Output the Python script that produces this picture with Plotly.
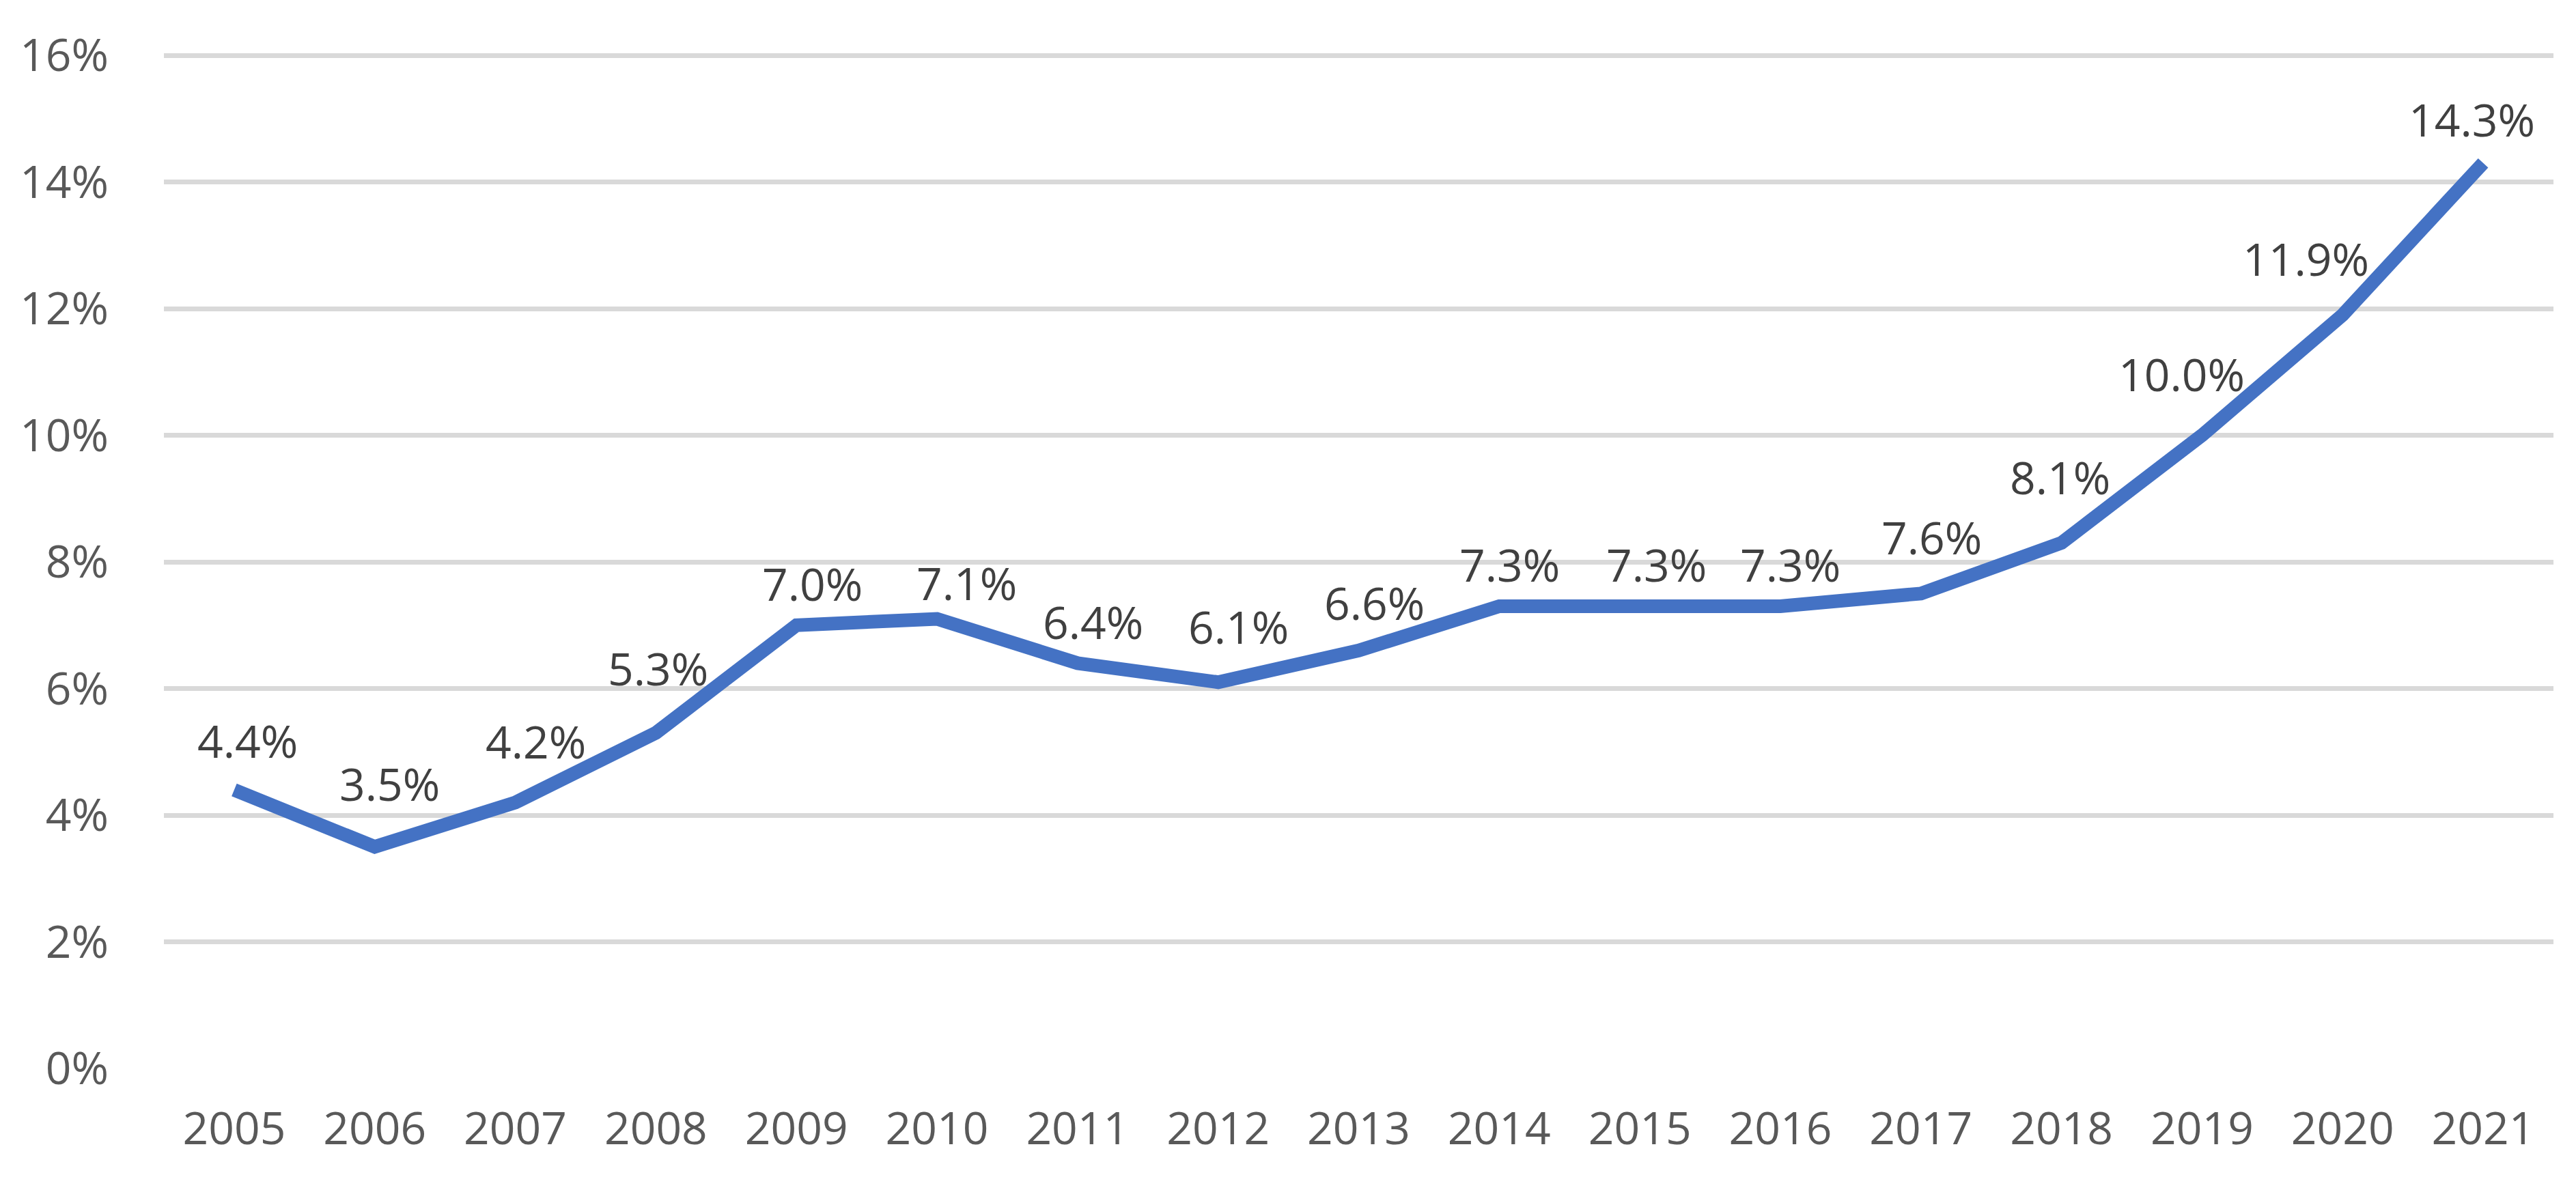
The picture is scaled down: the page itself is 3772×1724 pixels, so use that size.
import plotly.graph_objects as go

years = ["2005", "2006", "2007", "2008", "2009", "2010", "2011", "2012", "2013",
         "2014", "2015", "2016", "2017", "2018", "2019", "2020", "2021"]
# line values (percent) as drawn
line_values = [4.4, 3.5, 4.2, 5.3, 7.0, 7.1, 6.4, 6.1, 6.6,
               7.3, 7.3, 7.3, 7.5, 8.3, 10.0, 11.9, 14.3]
# data label values as printed on the chart
label_values = [4.4, 3.5, 4.2, 5.3, 7.0, 7.1, 6.4, 6.1, 6.6,
                7.3, 7.3, 7.3, 7.6, 8.1, 10.0, 11.9, 14.3]
y_ticks = [0, 2, 4, 6, 8, 10, 12, 14, 16]

# pixel nudges for each data label (dx, dy above the point), style only
label_nudge = [(20, 42), (22, 62), (30, 59), (3, 64), (23, 31), (43, 22), (23, 30),
               (30, 51), (23, 40), (15, 31), (24, 31), (15, 31), (16, 52), (-2, 66),
               (-30, 60), (-54, 52), (-17, 34)]

FONT = "Open Sans"
FS = 66
LINE_COLOR = "#4472C4"
GRID = "#D9D9D9"

fig = go.Figure()
fig.add_trace(go.Scatter(
    x=years, y=line_values, mode="lines",
    line=dict(color=LINE_COLOR, width=20),
    hoverinfo="skip", showlegend=False,
))

for i, (v, lv, (dx, dy)) in enumerate(zip(line_values, label_values, label_nudge)):
    fig.add_annotation(
        x=i, y=v, xref="x", yref="y", text=f"{lv:.1f}%", showarrow=False,
        xanchor="center", yanchor="bottom",
        xshift=dx, yshift=dy - 16,
        font=dict(family=FONT, size=FS, color="#404040"),
    )

fig.update_layout(
    width=3772, height=1724,
    margin=dict(l=232, r=41, t=68, b=167, pad=0),
    paper_bgcolor="white", plot_bgcolor="white",
    font=dict(family=FONT, size=FS, color="#595959"),
)
fig.update_xaxes(
    type="category", range=[-0.5, 16.5],
    showgrid=False, showline=False, zeroline=False,
    ticks="", ticklabelstandoff=44,
    tickfont=dict(family=FONT, size=FS, color="#595959"),
)
fig.update_yaxes(
    range=[0, 16.054], tickvals=y_ticks, ticktext=[f"{t}%" for t in y_ticks],
    showgrid=True, gridcolor=GRID, gridwidth=7,
    zeroline=False, showline=False, ticks="",
    ticklabelstandoff=80,
    tickfont=dict(family=FONT, size=FS, color="#595959"),
)

fig.write_html("out.html")
